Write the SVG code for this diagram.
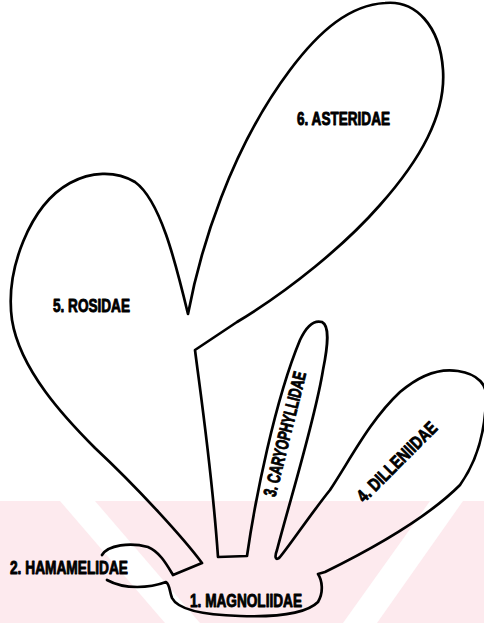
<svg xmlns="http://www.w3.org/2000/svg" width="484" height="625" viewBox="0 0 484 625">
<style>
.bg{fill:#fdeaee}
.stripe{fill:#ffffff}
.line{fill:none;stroke:#000;stroke-width:2.7;stroke-linejoin:round;stroke-linecap:round}
.lbl{font-family:"Liberation Sans Narrow","Liberation Sans",Arial,sans-serif;font-weight:bold;font-size:18px;fill:#000;stroke:#000;stroke-width:0.9;stroke-linejoin:round}
</style>
<rect width="484" height="625" fill="#fff"/>
<g id="background">
<rect class="bg" x="0" y="501" width="484" height="122"/>
<polygon class="stripe" points="60,501 95,501 200,623 165,623"/>
<polygon class="stripe" points="430,501 463,501 377,623 343,623"/>
</g>
<g id="connectors">
<path class="line" d="M102,555 C108,545 130,542 148,547 C160,552 167,565 173,575 L202,563 C185,540 140,490 95,448 C65,418 20,370 12,320 C5,270 30,205 70,183 C90,172 115,170 135,182 C160,200 175,260 188,314 C200,250 230,150 290,70 C320,30 350,5 385,3 C415,0 440,25 443,70 C446,115 420,160 380,205 C345,245 290,290 237,322 L195,350 C200,390 212,470 218,557 L247,556 C255,500 275,400 300,340 C307,325 315,320 322,322 C330,326 328,345 323,370 C315,420 290,500 277,550 C274,558 276,561 280,557 C290,545 310,515 330,490 C350,460 370,420 400,392 C420,375 440,368 458,371 C478,374 488,385 486,400 C485,430 478,460 460,485 C430,515 380,545 325,572 L318,574 C322,580 324,592 318,602 C305,615 270,617 240,616 C205,615 178,610 172,598 C169,590 170,585 166,582 C150,588 125,590 107,580"/>
</g>
<g id="n6"><text class="lbl" x="297" y="125" textLength="93" lengthAdjust="spacingAndGlyphs">6. ASTERIDAE</text></g>
<g id="n5"><text class="lbl" x="53" y="312" textLength="77" lengthAdjust="spacingAndGlyphs">5. ROSIDAE</text></g>
<g id="n3"><text class="lbl" text-anchor="middle" transform="translate(285,434) rotate(-76)" y="6" textLength="128" lengthAdjust="spacingAndGlyphs">3. CARYOPHYLLIDAE</text></g>
<g id="n4"><text class="lbl" text-anchor="middle" transform="translate(397,462) rotate(-45)" y="6" textLength="105" lengthAdjust="spacingAndGlyphs">4. DILLENIIDAE</text></g>
<g id="n2"><text class="lbl" x="10" y="574" textLength="118" lengthAdjust="spacingAndGlyphs">2. HAMAMELIDAE</text></g>
<g id="n1"><text class="lbl" x="190" y="607" textLength="112" lengthAdjust="spacingAndGlyphs">1. MAGNOLIIDAE</text></g>
</svg>
